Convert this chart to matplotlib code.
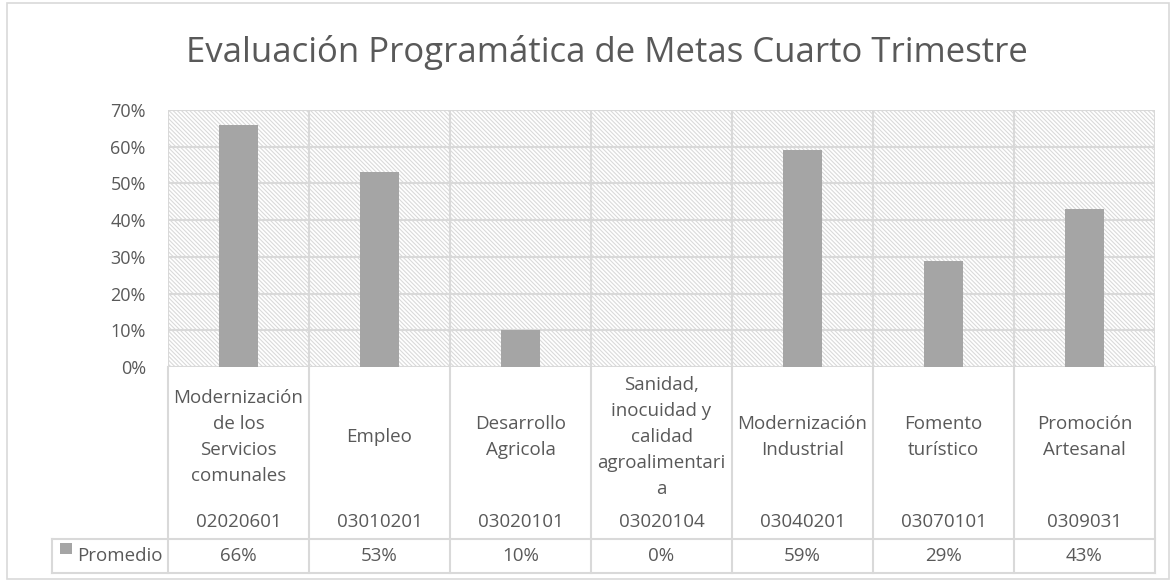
import numpy as np
import matplotlib.pyplot as plt
from matplotlib.patches import Rectangle

plt.rcParams['font.family'] = ['Open Sans', 'DejaVu Sans']
plt.rcParams['hatch.linewidth'] = 0.8

categorias = ["Modernización\nde los\nServicios\ncomunales", "Empleo", "Desarrollo\nAgricola",
              "Sanidad,\ninocuidad y\ncalidad\nagroalimentari\na", "Modernización\nIndustrial",
              "Fomento\nturístico", "Promoción\nArtesanal"]
codigos = ["02020601", "03010201", "03020101", "03020104", "03040201", "03070101", "0309031"]
promedio = [0.66, 0.53, 0.10, 0.0, 0.59, 0.29, 0.43]

W, H = 1173, 582
gris_txt = "#595959"
gris_lin = "#d9d9d9"
gris_bar = "#a5a5a5"

fig = plt.figure(figsize=(W / 100, H / 100), dpi=100)
# area del grafico en pixeles
x0, x1, ytop, ybot = 168, 1155, 110, 367
ax = fig.add_axes([x0 / W, 1 - ybot / H, (x1 - x0) / W, (ybot - ytop) / H])

n = len(categorias)
x = np.arange(n)
ax.set_xlim(-0.5, n - 0.5)
ax.set_ylim(0, 0.7)

# fondo rayado
ax.add_patch(Rectangle((0, 0), 1, 1, transform=ax.transAxes, facecolor="white",
                       edgecolor="#dadada", hatch="\\\\\\\\\\\\\\\\", linewidth=0, zorder=0))

ax.bar(x, promedio, width=0.27, color=gris_bar, zorder=3)

yt = np.arange(0, 0.71, 0.1)
ax.set_yticks(yt)
ax.set_yticklabels(["%d%%" % round(v * 100) for v in yt], color=gris_txt, fontsize=13)
ax.tick_params(axis="y", length=0, pad=16)
ax.set_xticks([])
for v in yt:
    ax.axhline(v, color=gris_lin, linewidth=1.5, zorder=1)
for b in np.arange(-0.5, n, 1.0):
    ax.axvline(b, color=gris_lin, linewidth=1.5, zorder=1)
for s in ax.spines.values():
    s.set_visible(False)

# tabla de datos debajo del grafico
def fy(py):
    return (ybot - py) / (ybot - ytop)

tr = ax.get_xaxis_transform()
y_lab, y_row = fy(539), fy(573)
x_leg = -0.5 - (x0 - 52) / 141.0
kw = dict(color=gris_lin, linewidth=1.5, transform=tr, clip_on=False)
for b in np.arange(-0.5, n, 1.0):
    ax.plot([b, b], [0, y_row], **kw)
ax.plot([x_leg, n - 0.5], [y_lab, y_lab], **kw)
ax.plot([x_leg, n - 0.5], [y_row, y_row], **kw)
ax.plot([x_leg, x_leg], [y_lab, y_row], **kw)

fs = 13.5
for i in range(n):
    ax.text(x[i], fy(437), categorias[i], transform=tr, ha="center", va="center",
            fontsize=fs, color=gris_txt, linespacing=1.56, clip_on=False)
    ax.text(x[i], fy(522), codigos[i], transform=tr, ha="center", va="center",
            fontsize=fs, color=gris_txt, clip_on=False)
    ax.text(x[i], fy(556), "%d%%" % round(promedio[i] * 100), transform=tr,
            ha="center", va="center", fontsize=fs, color=gris_txt, clip_on=False)

ax.add_patch(Rectangle((-0.5 - (x0 - 60) / 141.0, fy(554)), 12 / 141.0, fy(543) - fy(554),
                       transform=tr, facecolor=gris_bar, edgecolor="none", clip_on=False))
ax.text(-0.5 - (x0 - 77) / 141.0, fy(556), "Promedio", transform=tr, ha="left", va="center",
        fontsize=fs, color=gris_txt, clip_on=False)

fig.text(607 / W, 1 - 53 / H, "Evaluación Programática de Metas Cuarto Trimestre",
         ha="center", va="center", fontsize=25, color=gris_txt)

# marco exterior
fig.patches.append(Rectangle((7 / W, 1 - 579 / H), 1162 / W, 576 / H, transform=fig.transFigure,
                             facecolor="none", edgecolor=gris_lin, linewidth=1.2))

fig.savefig("out.png", dpi=100)
